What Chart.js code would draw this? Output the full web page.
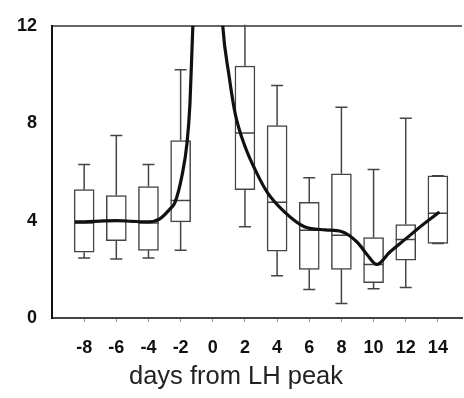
<!DOCTYPE html>
<html><head><meta charset="utf-8">
<script src="https://cdn.jsdelivr.net/npm/chart.js@4.4.0/dist/chart.umd.min.js"></script>
<style>html,body{margin:0;padding:0;background:#fff}</style>
</head><body>
<canvas id="c" width="464" height="398"></canvas>
<script>
// ---- data ----
const xTicks = [-8, -6, -4, -2, 0, 2, 4, 6, 8, 10, 12, 14];
const yTicks = [0, 4, 8, 12];
const boxDays     = [-8, -6, -4, -2, 2, 4, 6, 8, 10, 12, 14];
const whiskerLow  = [2.46, 2.42, 2.46, 2.78, 3.75, 1.73, 1.17, 0.6, 1.2, 1.25, 3.06];
const q1          = [2.7, 3.18, 2.78, 3.95, 5.27, 2.74, 2.0, 2.0, 1.45, 2.38, 3.06];
const median      = [3.9, 4.0, 3.9, 4.83, 7.6, 4.75, 3.6, 3.4, 2.2, 3.22, 4.3];
const q3          = [5.27, 5.03, 5.4, 7.29, 10.35, 7.9, 4.75, 5.92, 3.3, 3.84, 5.84];
const whiskerHigh = [6.3, 7.5, 6.3, 10.2, 12.5, 9.55, 5.76, 8.65, 6.1, 8.2, 5.84];
const lineDays = [-8.57, -8, -7, -6, -5, -4, -3.3, -2.67, -2.35, -1.9, -1.6, -1.42, -1.24, -0.8, 0, 0.62, 1.0, 1.4, 2.0, 2.73, 3.4, 4.47, 5.7, 7.0, 8.0, 9.0, 9.6, 10.2, 11.0, 12.0, 13.0, 14.1];
const lineVals = [3.95, 3.95, 3.98, 4.0, 3.97, 3.95, 4.07, 4.47, 4.75, 5.9, 7.2, 8.8, 12, 18, 20, 12, 10.0, 8.37, 7.05, 5.96, 5.15, 4.35, 3.75, 3.62, 3.55, 3.1, 2.6, 2.2, 2.7, 3.25, 3.8, 4.35];

const FONT = '"Liberation Sans", Arial, sans-serif';

const boxPlugin = {
  id: 'boxParts',
  afterDatasetDraw(chart, args) {
    if (args.index !== 1) return;
    const {ctx, scales: {x, y}, chartArea} = chart;
    ctx.save();
    ctx.beginPath();
    ctx.rect(chartArea.left, chartArea.top - 1, chartArea.width, chartArea.height + 1);
    ctx.clip();
    ctx.strokeStyle = '#444';
    ctx.lineWidth = 1.5;
    const half = 10, cap = 6;
    boxDays.forEach((d, i) => {
      const px = x.getPixelForValue(d);
      const pl = y.getPixelForValue(whiskerLow[i]);
      const p1 = y.getPixelForValue(q1[i]);
      const pm = y.getPixelForValue(median[i]);
      const p3 = y.getPixelForValue(q3[i]);
      const ph = y.getPixelForValue(whiskerHigh[i]);
      ctx.beginPath();
      ctx.moveTo(px, p1); ctx.lineTo(px, pl);
      ctx.moveTo(px - cap, pl); ctx.lineTo(px + cap, pl);
      ctx.moveTo(px, p3); ctx.lineTo(px, ph);
      ctx.moveTo(px - cap, ph); ctx.lineTo(px + cap, ph);
      ctx.moveTo(px - half, pm); ctx.lineTo(px + half, pm);
      ctx.stroke();
    });
    ctx.restore();
  }
};

new Chart(document.getElementById('c'), {
  type: 'bar',
  data: {
    datasets: [
      {
        type: 'line',
        order: 0,
        data: lineDays.map((d, i) => ({x: d, y: lineVals[i]})),
        borderColor: '#111',
        borderWidth: 3.2,
        pointRadius: 0,
        fill: false,
        cubicInterpolationMode: 'monotone'
      },
      {
        type: 'bar',
        order: 1,
        data: boxDays.map((d, i) => ({x: d, y: [q1[i], q3[i]]})),
        backgroundColor: '#fff',
        borderColor: '#444',
        borderWidth: 1.5,
        borderSkipped: false,
        barThickness: 20
      }
    ]
  },
  options: {
    responsive: false,
    animation: false,
    devicePixelRatio: 1,
    layout: {padding: {left: 10, right: 2, top: 20, bottom: 0}},
    plugins: {
      legend: {display: false},
      tooltip: {enabled: false},
      title: {
        display: true,
        position: 'bottom',
        text: 'days from LH peak',
        color: '#222',
        font: {family: FONT, size: 25.5, weight: 'normal'},
        padding: {top: 0, bottom: 6}
      }
    },
    scales: {
      x: {
        type: 'linear',
        min: -10, max: 15.5,
        offset: false,
        afterBuildTicks: s => { s.ticks = xTicks.map(v => ({value: v})); },
        afterFit: s => { s.height = 43.4; },
        ticks: {color: '#111', font: {family: FONT, size: 18, weight: 'bold'}, padding: 15, maxRotation: 0, autoSkip: false},
        grid: {drawOnChartArea: false, drawTicks: true, tickLength: 4, color: '#999', offset: false},
        border: {color: '#444', width: 2}
      },
      y: {
        min: 0, max: 12,
        afterBuildTicks: s => { s.ticks = yTicks.map(v => ({value: v})); },
        afterFit: s => { s.width = 42; },
        ticks: {color: '#111', font: {family: FONT, size: 18, weight: 'bold'}, padding: 15},
        grid: {drawTicks: false, lineWidth: 2, color: c => (c.tick && c.tick.value === 12) ? '#666' : 'rgba(0,0,0,0)'},
        border: {color: '#111', width: 2}
      }
    }
  },
  plugins: [boxPlugin]
});
</script>
</body></html>
